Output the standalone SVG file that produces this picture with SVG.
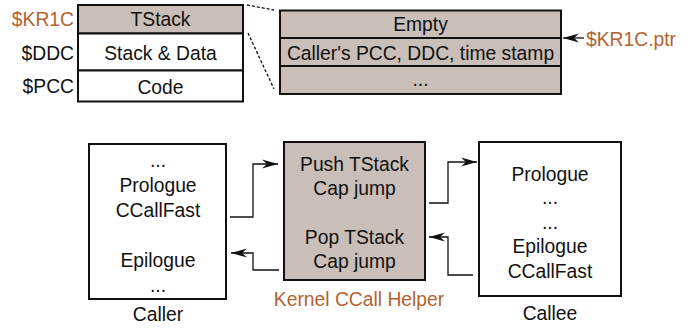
<svg xmlns="http://www.w3.org/2000/svg" width="693" height="328" viewBox="0 0 693 328">
<defs>
<style>
text{font-family:"Liberation Sans",Arial,sans-serif;font-size:19.3px;fill:#111}
.m{text-anchor:middle}
.e{text-anchor:end}
.o{fill:#b4622f}
.box{stroke:#111;stroke-width:2}
.g{fill:#c9beb8}
.w{fill:#fff}
.c{fill:none;stroke:#111;stroke-width:1.3}
.d{fill:none;stroke:#111;stroke-width:1.3;stroke-dasharray:3,2}
</style>
<marker id="ah" viewBox="0 0 16 10" refX="16" refY="5" markerWidth="16" markerHeight="10" markerUnits="userSpaceOnUse" orient="auto">
<path d="M0,0.5 L16,5 L0,9.5 L5,5 z" fill="#111"/>
</marker>
</defs>
<rect width="693" height="328" fill="#fff"/>

<g id="memory">
<rect class="box g" x="78" y="5" width="165" height="28.5"/>
<rect class="box w" x="78" y="33.5" width="165" height="37"/>
<rect class="box w" x="78" y="70.5" width="165" height="31"/>
<text class="m" x="160.5" y="26">TStack</text>
<text class="m" x="160.5" y="59.5">Stack &amp; Data</text>
<text class="m" x="160.5" y="94">Code</text>
<text class="e o" x="74" y="26">$KR1C</text>
<text class="e" x="74" y="59.5">$DDC</text>
<text class="e" x="74" y="92.5">$PCC</text>
</g>

<g id="tstack">
<rect class="box g" x="280" y="10.5" width="281" height="27.5"/>
<rect class="box g" x="280" y="38" width="281" height="28"/>
<rect class="box g" x="280" y="66" width="281" height="28"/>
<text class="m" x="420.5" y="31">Empty</text>
<text class="m" x="420.5" y="59.5">Caller's PCC, DDC, time stamp</text>
<text class="m" x="420.5" y="86">...</text>
<text class="o" x="586" y="46">$KR1C.ptr</text>
</g>

<g id="caller">
<rect class="box w" x="89" y="144" width="137" height="155"/>
<text class="m" x="158" y="167">...</text>
<text class="m" x="158" y="192">Prologue</text>
<text class="m" x="158" y="217">CCallFast</text>
<text class="m" x="158" y="267">Epilogue</text>
<text class="m" x="158" y="292">...</text>
<text class="m" x="158" y="321">Caller</text>
</g>

<g id="helper">
<rect class="box g" x="284" y="142" width="141" height="138"/>
<text class="m" x="354.5" y="171">Push TStack</text>
<text class="m" x="354.5" y="195">Cap jump</text>
<text class="m" x="354.5" y="244">Pop TStack</text>
<text class="m" x="354.5" y="268">Cap jump</text>
<text class="m o" x="359" y="306">Kernel CCall Helper</text>
</g>

<g id="callee">
<rect class="box w" x="479" y="142" width="142" height="154"/>
<text class="m" x="550" y="181">Prologue</text>
<text class="m" x="550" y="204">...</text>
<text class="m" x="550" y="229">...</text>
<text class="m" x="550" y="253">Epilogue</text>
<text class="m" x="550" y="278">CCallFast</text>
<text class="m" x="550" y="320">Callee</text>
</g>

<g id="connectors">
<path class="d" d="M247,5 L274,10"/>
<path class="d" d="M248,33 L274,89"/>
<path class="c" d="M584,38 L563,38" marker-end="url(#ah)"/>
<path class="c" d="M230,217 H253 V164 H278" marker-end="url(#ah)"/>
<path class="c" d="M279,270 H253 V253 H231" marker-end="url(#ah)"/>
<path class="c" d="M429,203 H448 V162 H477" marker-end="url(#ah)"/>
<path class="c" d="M473,275 H448 V237 H429" marker-end="url(#ah)"/>
</g>
</svg>
